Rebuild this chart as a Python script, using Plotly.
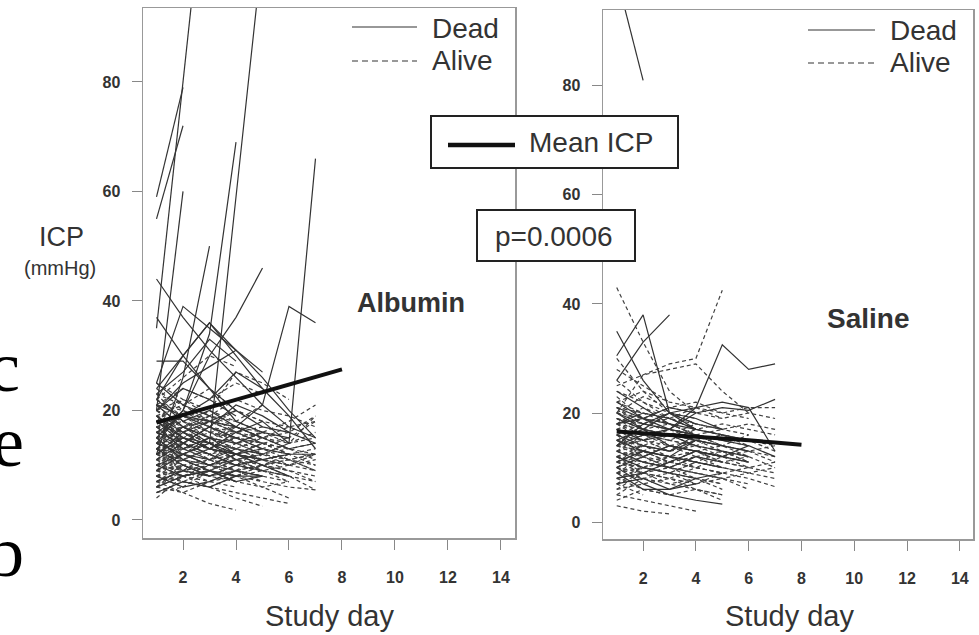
import plotly.graph_objects as go

# ---------------- data (ICP values, one list per patient, day 1, 2, 3 ...) ----------------
albumin_dead = [
    [35, 80, 125], [55, 72], [59, 79], [20, 60], [15, 20, 34, 69], [12, 26, 50],
    [18, 15, 14, 59, 104], [14, 20, 30, 37, 46], [19, 16, 18, 17, 21, 39, 36],
    [12, 15, 13, 16, 18, 14, 66], [44, 37, 31, 26, 21, 17, 15], [37, 30, 24, 18, 16],
    [25, 39, 35, 31], [22, 30, 36, 31, 27], [20, 25, 28, 31, 26, 20, 15],
    [24, 30, 36, 30, 24, 19, 13], [29, 29, 24, 20], [18, 14, 12, 10, 9], [10, 12, 14, 11],
    [22, 18, 20, 17, 15, 13, 14], [16, 19, 22, 27, 24], [6, 8, 9, 7], [13, 10, 8],
    [25, 21, 19], [8, 6, 7, 9, 8], [20, 24, 22, 19], [12, 16, 13, 12, 11, 12],
    [9, 12, 10, 12, 13], [15, 11, 9, 8, 8], [17, 13, 15, 12], [23, 27, 33, 29],
    [11, 14, 17, 21, 19, 16], [21, 17, 14, 12, 10, 8], [14, 12, 11, 13, 12],
    [19, 15, 13, 12], [7, 9, 8, 10, 11], [16, 14, 17, 15, 13, 12, 12], [10, 8, 9, 7, 8],
    [13, 17, 15, 14, 16, 15], [5, 7, 6, 8], [21, 19, 18, 20, 17, 16, 14],
]
albumin_alive = [
    [12, 14, 13, 15, 16, 18, 21], [8, 10, 9, 11, 12, 10, 9], [15, 13, 12, 10, 9, 8, 5.5],
    [20, 18, 16, 15, 14, 13, 12], [10, 12, 14, 13, 12, 14, 16], [6, 8, 7, 9, 8, 7],
    [18, 16, 19, 17, 15, 16, 19], [14, 11, 10, 8, 6, 4], [9, 7, 6, 4, 2.5], [7, 5, 3, 1.8],
    [22, 19, 17, 14, 12], [16, 18, 15, 13, 11, 10], [13, 15, 17, 16, 14, 12, 10],
    [5, 7, 6, 8, 10, 9], [19, 21, 18, 16, 17], [24, 20, 17, 15], [12, 10, 11, 9, 10, 8],
    [8, 11, 13, 12, 14], [17, 14, 12, 13, 11, 12, 13], [10, 13, 11, 12, 10, 11, 9],
    [21, 17, 15, 16, 14], [14, 16, 14, 11, 12, 13, 14], [7, 9, 11, 10, 9],
    [11, 8, 9, 12, 14, 15], [16, 12, 10, 11, 9, 7], [23, 21, 24, 20, 18, 17],
    [13, 11, 9, 8, 7, 6, 5.5], [9, 12, 10, 8], [18, 22, 20, 18, 21], [15, 17, 19, 22, 20, 19, 17],
    [6, 5, 7, 6], [12, 15, 18, 16], [20, 16, 14, 12, 11, 10, 12], [10, 8, 6, 5, 4, 3],
    [17, 19, 16, 14, 15], [14, 12, 15, 13], [8, 6, 9, 11, 12, 11, 10], [21, 24, 22, 25, 23],
    [11, 14, 12, 10, 13, 15, 18], [16, 13, 14, 17, 15, 13, 11], [25, 22, 19, 16, 14],
    [9, 11, 13, 15, 14, 12], [13, 10, 8, 9], [7, 10, 8, 7, 6, 7], [18, 15, 13, 11, 10, 12],
    [12, 13, 11, 14, 12, 11, 12], [15, 19, 17, 20, 18], [19, 17, 15, 17, 16, 14, 15],
    [10, 9, 12, 14], [14, 17, 20, 27, 25, 22], [22, 26, 30, 28], [8, 9, 7, 8, 10, 9, 8],
    [5, 6], [11, 15], [17, 13], [20, 22], [4, 8], [23, 18], [9, 14], [13, 9], [6, 10], [15, 11],
    [11, 9, 8, 10, 11, 9, 7], [16, 15, 13, 12, 13, 11, 9], [19, 14, 11, 9, 12, 14, 19],
    [12, 11, 13, 12, 11], [9, 10, 8, 9, 7], [14, 13, 15, 14, 13, 12], [17, 16, 14, 15],
    [10, 11, 10, 12, 11, 10, 11], [13, 14, 12, 10, 11], [8, 7, 9, 8, 9, 10], [15, 16, 14, 13],
    [18, 19, 17, 15, 14, 13], [11, 12, 14, 13, 15], [6, 9, 10, 9, 8], [20, 17, 19, 18, 16],
    [12, 9, 10, 11, 9, 8, 7], [16, 17, 18, 16, 15, 17, 18], [14, 15, 13, 12, 14],
    [9, 8, 10, 12, 11], [21, 20, 18, 17, 15, 14], [7, 8, 10, 11, 9, 8],
    [13, 12, 10, 9, 10, 11, 12], [17, 18, 16, 17], [10, 14, 16, 15, 13],
]
saline_dead = [
    [100, 81], [30.5, 38, 20, 17], [35, 26, 20, 18], [26, 33, 38], [20, 18, 17, 21, 32.5, 28, 29],
    [14, 16, 17, 20, 21, 20.5, 22.5], [15, 17, 20, 21, 22, 21, 13], [10, 7, 5, 4, 3.3],
    [9, 6, 6, 8, 9], [18, 20, 19, 17, 16, 15], [12, 10, 9, 8], [17, 15, 16, 14, 13, 12],
    [22, 19, 18, 17], [14, 18, 20, 19, 17], [8, 9, 11, 13, 12, 11], [19, 17, 14, 13, 12, 14, 12],
    [24, 21, 18], [11, 13, 12, 15], [16, 14, 13, 16, 15, 14], [21, 19, 21, 20],
    [13, 11, 10, 12, 11], [7, 8, 6, 7], [18, 19, 17, 16], [15, 13, 12, 11, 10],
    [10, 12, 14, 13, 12], [20, 17, 16, 15, 14, 13],
]
saline_alive = [
    [43, 33, 24, 20], [25, 27, 29, 30, 42.5], [20, 27, 28, 29, 24, 20], [30, 24, 20, 18],
    [15, 13, 11, 10, 9, 8, 6.5], [12, 14, 13, 15, 14, 13, 12], [18, 17, 16, 17, 18, 17, 16],
    [20, 19, 21, 20, 19, 20, 19], [16, 18, 19, 21, 20, 21, 21], [9, 8, 7, 6, 5], [5, 4, 3, 2],
    [3, 2, 1.5], [11, 9, 10, 8, 7], [14, 12, 10, 9, 8, 7], [17, 15, 14, 13, 12, 11],
    [22, 20, 18, 16, 15], [10, 12, 11, 13, 12, 10, 9], [13, 16, 15, 14, 16, 15, 14],
    [8, 10, 9, 11, 10], [19, 16, 14, 12, 11, 10], [6, 7, 8, 6, 5], [24, 22, 20, 18, 17],
    [11, 13, 15, 14, 13, 12], [15, 17, 16, 18, 17], [21, 18, 17, 16, 14, 13, 11],
    [9, 11, 10, 12, 13, 11], [13, 11, 12, 10, 9, 10, 11], [17, 19, 18, 16, 15, 14],
    [7, 9, 8, 10, 9], [12, 10, 11, 13, 14, 12, 10], [18, 21, 19, 17, 16], [23, 19, 16, 14],
    [10, 8, 9, 7, 8, 6], [14, 15, 13, 14, 12, 13, 14], [16, 13, 12, 11, 10, 9, 8],
    [20, 23, 21, 22, 20, 19], [8, 6, 5, 6, 4], [11, 14, 12, 11, 13], [15, 12, 14, 13, 11, 12],
    [19, 17, 18, 16, 17, 18, 17], [26, 22, 19, 17], [6, 9, 7, 8, 6], [13, 12, 14, 15, 13, 11],
    [17, 14, 13, 15, 14, 16], [9, 12, 10, 9, 8], [22, 24, 22, 21, 19], [4, 6, 5], [28, 25, 22],
    [5, 8], [10, 13], [16, 12], [21, 17], [12, 9], [7, 5], [18, 15], [14, 18],
    [12, 13, 11, 12, 10], [16, 15, 17, 16, 14], [10, 9, 11, 10, 12, 11], [19, 18, 20, 19],
    [8, 9, 8, 7, 9], [14, 13, 12, 13, 11, 10], [21, 20, 19, 18, 17, 16], [11, 10, 12, 11],
    [17, 16, 15, 17, 16, 15, 13], [13, 14, 16, 15, 14], [9, 10, 9, 11, 10, 9], [15, 14, 13, 15],
    [7, 10, 9, 8, 7], [18, 16, 17, 15, 16, 14], [12, 11, 10, 9, 8, 9, 10],
]
days_mean = [1, 2, 3, 4, 5, 6, 7, 8]
albumin_mean = [17.8, 19.2, 20.6, 22.0, 23.4, 24.7, 26.1, 27.5]
saline_mean = [16.6, 16.3, 16.0, 15.6, 15.3, 15.0, 14.6, 14.2]

x_ticks = [2, 4, 6, 8, 10, 12, 14]
y_ticks = [0, 20, 40, 60, 80]

W, H = 979, 635


def flat(series_list):
    xs, ys = [], []
    for s in series_list:
        xs += list(range(1, len(s) + 1)) + [None]
        ys += list(s) + [None]
    return xs, ys


fig = go.Figure()
panels = [(albumin_dead, albumin_alive, albumin_mean, "x", "y"),
          (saline_dead, saline_alive, saline_mean, "x2", "y2")]
for dead, alive, mean, xa, ya in panels:
    xs, ys = flat(alive)
    fig.add_trace(go.Scatter(x=xs, y=ys, mode="lines", xaxis=xa, yaxis=ya,
                             line=dict(color="#404040", width=1.2, dash="4px,3px"),
                             connectgaps=False, hoverinfo="skip"))
    xs, ys = flat(dead)
    fig.add_trace(go.Scatter(x=xs, y=ys, mode="lines", xaxis=xa, yaxis=ya,
                             line=dict(color="#333333", width=1.2),
                             connectgaps=False, hoverinfo="skip"))
    fig.add_trace(go.Scatter(x=days_mean, y=mean, mode="lines", xaxis=xa, yaxis=ya,
                             line=dict(color="#111111", width=4), hoverinfo="skip"))


def px(p):
    return p / W


def py(p):
    return 1 - p / H


axis_common = dict(showgrid=False, zeroline=False, showline=True, mirror=True,
                   linecolor="#999999", linewidth=1.5, ticks="outside", ticklen=10,
                   tickwidth=1, tickcolor="#888888",
                   tickfont=dict(family="Liberation Sans, Arial", size=16, color="#333333",
                                 weight="bold"))

fig.update_layout(
    width=W, height=H, margin=dict(l=0, r=0, t=0, b=0),
    paper_bgcolor="white", plot_bgcolor="white", showlegend=False,
    xaxis=dict(domain=[px(143), px(515)], range=[0.49, 14.53], tickvals=x_ticks,
               anchor="y", ticklabelstandoff=14, **axis_common),
    yaxis=dict(domain=[py(538), py(8)], range=[-3.3, 93.5], tickvals=y_ticks,
               anchor="x", ticklabelstandoff=8, **axis_common),
    xaxis2=dict(domain=[px(603), px(973)], range=[0.48, 14.5], tickvals=x_ticks,
                anchor="y2", ticklabelstandoff=14, **axis_common),
    yaxis2=dict(domain=[py(539), py(10)], range=[-3.1, 93.9], tickvals=y_ticks,
                anchor="x2", ticklabelstandoff=8, **axis_common),
)

shapes = []
ann = []
sans = "Liberation Sans, Arial"


def text(x, y, s, size, xanchor="center", bold=False, color="#333333", family=sans):
    ann.append(dict(x=px(x), y=py(y), xref="paper", yref="paper", text=s, showarrow=False,
                    xanchor=xanchor, yanchor="middle",
                    font=dict(family=family, size=size, color=color,
                              weight="bold" if bold else "normal")))


def hline(x0, x1, y, dash="solid", width=1.2, color="#333333"):
    shapes.append(dict(type="line", xref="paper", yref="paper", x0=px(x0), x1=px(x1),
                       y0=py(y), y1=py(y), line=dict(color=color, width=width, dash=dash),
                       layer="above"))


# panel legends
for (lx0, lx1, ty, tx, dy) in [(352, 417, 27, 430, 61), (808, 875, 30, 888, 63)]:
    hline(lx0, lx1, ty)
    hline(lx0, lx1, dy, dash="6px,4px")
    text(tx, ty + 1, "Dead", 28, xanchor="left")
    text(tx, dy, "Alive", 28, xanchor="left")

# Mean ICP box
shapes.append(dict(type="rect", xref="paper", yref="paper", x0=px(431), x1=px(678),
                   y0=py(168), y1=py(116), fillcolor="white",
                   line=dict(color="#222222", width=2), layer="above"))
hline(448, 515, 145, width=4.5, color="#111111")
text(527, 142, "Mean ICP", 28, xanchor="left")

# p-value box
shapes.append(dict(type="rect", xref="paper", yref="paper", x0=px(477), x1=px(635),
                   y0=py(261), y1=py(210), fillcolor="white",
                   line=dict(color="#222222", width=2), layer="above"))
text(554, 236, "p=0.0006", 28)

# panel titles
text(411, 303, "Albumin", 27, bold=True)
text(868, 319, "Saline", 28, bold=True)

# axis titles
text(329, 616, "Study day", 29)
text(789, 616, "Study day", 29)
text(61, 237, "ICP", 27)
text(60, 268, "(mmHg)", 20)

# cut-off letters at the left edge
serif = "Liberation Serif, Times New Roman"
text(22, 367, "c", 72, xanchor="right", color="#000000", family=serif)
text(26, 442, "e", 72, xanchor="right", color="#000000", family=serif)
text(26, 552, "b", 72, xanchor="right", color="#000000", family=serif)

fig.update_layout(shapes=shapes, annotations=ann)
fig.write_html("out.html", config={"displayModeBar": False, "staticPlot": True},
               post_script="document.body.style.margin='0px';")
